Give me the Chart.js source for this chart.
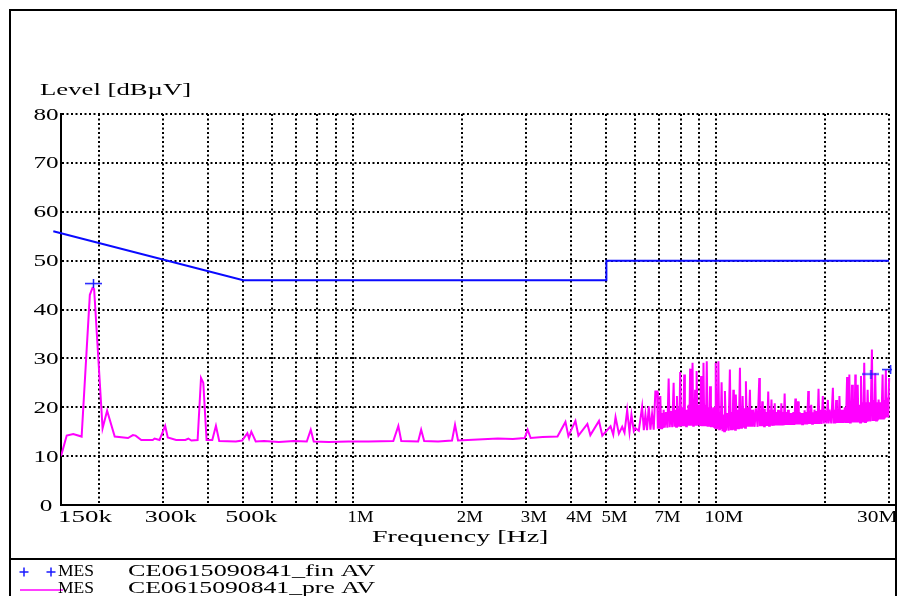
<!DOCTYPE html>
<html>
<head>
<meta charset="utf-8">
<script src="https://cdn.jsdelivr.net/npm/chart.js@4.4.0/dist/chart.umd.min.js"></script>
<style>
  html, body { margin: 0; padding: 0; background: #fff; }
  canvas { display: block; }
</style>
</head>
<body>
<canvas id="emiCanvas" width="898" height="596"></canvas>
<script>
// pre-scan, average detector (MHz / dBuV)
const preFreqMHz = [
  0.1575, 0.1633, 0.1702, 0.1795, 0.1891, 0.1923, 0.1943, 0.2050, 0.2110, 0.2214,
  0.2409, 0.2485, 0.2528, 0.2620, 0.2818, 0.2850, 0.2941, 0.3049, 0.3099, 0.3268,
  0.3465, 0.3532, 0.3599, 0.3745, 0.3826, 0.3882, 0.3964, 0.4110, 0.4206, 0.4295,
  0.4772, 0.4966, 0.5134, 0.5190, 0.5264, 0.5413, 0.5705, 0.6270, 0.6893, 0.7482,
  0.7673, 0.7819, 0.8597, 0.9750, 1.106, 1.295, 1.337, 1.362, 1.516, 1.545,
  1.575, 1.720, 1.879, 1.915, 1.952, 2.214, 2.512, 2.762, 2.978, 3.035,
  3.093, 3.337, 3.667, 3.857, 3.930, 4.109, 4.188, 4.432, 4.517, 4.771,
  4.872, 5.134, 5.222, 5.299, 5.412, 5.527, 5.609, 5.704, 5.789, 5.861,
  5.950, 6.012, 6.141, 6.271, 6.34, 6.404, 6.47, 6.541, 6.61, 6.680,
  6.75, 6.820, 6.894, 6.93, 6.967, 7.00, 7.039, 7.075, 7.112, 7.15,
  7.189, 7.24, 7.295, 7.36, 7.420, 7.47, 7.529, 7.59, 7.658, 7.70,
  7.737, 7.78, 7.820, 7.86, 7.904, 7.94, 7.984, 8.035, 8.086, 8.14,
  8.189, 8.225, 8.260, 8.29, 8.327, 8.37, 8.418, 8.46, 8.503, 8.54,
  8.578, 8.60, 8.633, 8.67, 8.703, 8.74, 8.775, 8.80, 8.831, 8.85,
  8.869, 8.92, 8.982, 9.05, 9.114, 9.155, 9.195, 9.225, 9.253, 9.30,
  9.348, 9.40, 9.448, 9.50, 9.549, 9.60, 9.647, 9.70, 9.750, 9.80,
  9.856, 9.89, 9.918, 9.96, 10.00, 10.04, 10.08, 10.125, 10.17, 10.22,
  10.27, 10.32, 10.38, 10.44, 10.50, 10.55, 10.60, 10.68, 10.76, 10.85,
  10.94, 11.00, 11.06, 11.12, 11.18, 11.22, 11.27, 11.31, 11.36, 11.43,
  11.51, 11.58, 11.66, 11.71, 11.76, 11.81, 11.86, 11.92, 11.99, 12.05,
  12.11, 12.18, 12.26, 12.34, 12.42, 12.48, 12.55, 12.62, 12.69, 12.80,
  12.90, 13.04, 13.18, 13.23, 13.29, 13.36, 13.43, 13.48, 13.54, 13.59,
  13.65, 13.72, 13.80, 13.87, 13.95, 14.02, 14.09, 14.16, 14.24, 14.31,
  14.39, 14.46, 14.54, 14.61, 14.69, 14.77, 14.85, 14.93, 15.01, 15.08,
  15.16, 15.24, 15.33, 15.40, 15.48, 15.56, 15.65, 15.73, 15.82, 15.90,
  15.98, 16.06, 16.15, 16.25, 16.36, 16.46, 16.57, 16.63, 16.70, 16.77,
  16.85, 16.93, 17.02, 17.11, 17.20, 17.29, 17.39, 17.48, 17.57, 17.66,
  17.75, 17.86, 17.98, 18.05, 18.13, 18.22, 18.32, 18.42, 18.52, 18.61,
  18.71, 18.83, 18.95, 19.07, 19.19, 19.29, 19.40, 19.56, 19.72, 19.85,
  19.98, 20.17, 20.36, 20.46, 20.57, 20.80, 21.02, 21.12, 21.23, 21.34,
  21.46, 21.57, 21.69, 21.80, 21.91, 22.02, 22.14, 22.26, 22.38, 22.52,
  22.67, 22.83, 23.00, 23.10, 23.19, 23.26, 23.33, 23.43, 23.54, 23.63,
  23.73, 23.86, 23.99, 24.11, 24.23, 24.30, 24.38, 24.49, 24.60, 24.72,
  24.85, 24.98, 25.12, 25.25, 25.39, 25.51, 25.64, 25.78, 25.92, 26.06,
  26.20, 26.33, 26.46, 26.69, 26.92, 27.06, 27.21, 27.35, 27.49, 27.64,
  27.79, 27.94, 28.09, 28.23, 28.38, 28.60, 28.81, 28.92, 29.04, 29.22,
  29.41, 29.53, 29.66, 29.85, 30.03, 30.15, 30.25, 30.40
];
const preLevel = [
  10.0, 14.2, 14.5, 14.0, 43.0, 44.4, 44.2, 15.7, 19.3, 14.0,
  13.7, 14.3, 14.2, 13.3, 13.3, 13.6, 13.3, 16.2, 13.8, 13.3,
  13.3, 13.6, 13.2, 13.3, 26.0, 25.0, 13.3, 13.3, 16.2, 13.1,
  13.0, 13.2, 14.7, 13.6, 15.0, 13.0, 13.1, 12.9, 13.1, 13.0,
  15.4, 13.0, 12.9, 13.0, 13.0, 13.1, 16.2, 13.1, 13.0, 15.4,
  13.1, 13.0, 13.2, 16.4, 13.2, 13.4, 13.6, 13.5, 13.7, 15.4,
  13.7, 13.9, 14.0, 17.0, 14.1, 17.2, 14.2, 16.6, 14.3, 17.2,
  14.2, 16.1, 14.4, 18.0, 14.6, 16.0, 14.8, 19.4, 14.9, 18.5,
  15.1, 15.7, 15.2, 20.1, 15.3, 18.5, 15.3, 20.2, 15.4, 18.6,
  15.4, 23.2, 23.2, 15.6, 18.0, 15.6, 22.3, 15.7, 18.8, 15.7,
  19.5, 15.8, 19.0, 15.8, 25.9, 15.9, 19.2, 15.9, 25.0, 16.0,
  19.5, 16.0, 22.3, 16.0, 19.8, 16.0, 27.2, 16.1, 20.0, 16.1,
  26.7, 16.1, 19.5, 16.1, 19.5, 16.2, 20.5, 16.2, 27.9, 16.2,
  20.0, 16.2, 29.1, 16.2, 20.5, 16.2, 23.6, 16.2, 19.8, 16.2,
  27.4, 16.2, 20.5, 16.2, 26.4, 16.1, 20.0, 16.1, 29.1, 16.1,
  20.5, 16.1, 29.4, 16.0, 20.0, 16.0, 24.3, 15.9, 19.8, 15.9,
  20.0, 15.8, 19.0, 15.8, 29.1, 15.7, 19.5, 15.7, 29.4, 15.5,
  19.0, 15.5, 25.1, 15.1, 18.5, 15.1, 23.3, 15.2, 18.8, 15.2,
  27.7, 15.3, 19.0, 15.3, 23.6, 15.4, 19.2, 15.4, 22.6, 15.5,
  19.5, 15.5, 28.1, 15.6, 19.5, 15.6, 22.3, 15.8, 19.8, 15.8,
  25.3, 16.0, 20.0, 16.0, 23.6, 16.0, 19.5, 16.0, 19.5, 16.0,
  19.8, 16.0, 26.0, 16.1, 19.5, 16.1, 21.2, 16.1, 19.0, 16.1,
  19.7, 16.2, 19.0, 16.2, 23.2, 16.2, 19.5, 16.2, 21.6, 16.2,
  19.5, 16.2, 20.8, 16.3, 19.0, 16.3, 19.5, 16.3, 19.2, 16.3,
  20.8, 16.3, 19.0, 16.3, 22.8, 16.4, 19.0, 16.4, 19.5, 16.4,
  18.8, 16.4, 18.8, 16.4, 19.0, 16.4, 21.8, 16.5, 19.2, 16.5,
  21.2, 16.5, 19.0, 16.5, 18.8, 16.5, 18.8, 16.5, 19.4, 16.5,
  19.0, 16.5, 23.3, 16.6, 19.2, 16.6, 20.5, 16.6, 19.0, 16.6,
  19.5, 16.6, 19.2, 16.6, 23.8, 16.6, 19.5, 16.6, 22.3, 16.7,
  19.5, 16.7, 21.5, 16.7, 19.5, 16.7, 24.0, 16.7, 19.5, 16.7,
  21.5, 16.8, 19.5, 16.8, 22.3, 16.8, 19.5, 16.8, 19.5, 16.8,
  20.0, 16.8, 26.2, 16.8, 20.5, 16.8, 26.7, 16.9, 20.5, 16.9,
  24.6, 16.9, 20.5, 16.9, 26.7, 16.9, 20.5, 16.9, 24.6, 16.9,
  20.5, 16.9, 26.4, 16.9, 21.0, 16.9, 29.1, 17.0, 21.0, 17.0,
  23.6, 17.1, 21.0, 17.1, 31.8, 17.2, 21.5, 17.2, 27.0, 17.3,
  21.0, 17.3, 21.6, 17.5, 21.0, 17.5, 26.7, 17.7, 21.5, 17.7,
  27.6, 17.9, 22.0, 17.9, 26.0, 17.9, 33.0, 30.0
];

// final measurements, average detector
const finFreqMHz = [0.1935, 26.76, 30.3, 30.3];
const finLevel = [45.3, 26.8, 27.7, 19.0];

// limit line
const limitFreqMHz = [0.15, 0.5, 5, 5, 30];
const limitLevel = [56, 46, 46, 50, 50];

// axes
const gridFreqMHz = [0.2, 0.3, 0.4, 0.5, 0.6, 0.7, 0.8, 0.9, 1, 2, 3, 4, 5, 6, 7, 8, 9, 10, 20, 30];
const xTickMHz = [0.15, 0.3, 0.5, 1, 2, 3, 4, 5, 7, 10, 30];
const xTickLabels = ['150k', '300k', '500k', '1M', '2M', '3M', '4M', '5M', '7M', '10M', '30M'];
const yTicks = [0, 10, 20, 30, 40, 50, 60, 70, 80];

const FONT = '16px "Liberation Serif", "Times New Roman", serif';
const PITCH = 12.6;

function toPoints(fs, ls) {
  return fs.map((f, i) => ({ x: f * 1e6, y: ls[i] }));
}

// wide, fixed pitch text like the receiver software
function wideText(ctx, str, x, y, align, pitch) {
  ctx.save();
  ctx.font = FONT;
  const w = ctx.measureText(str).width;
  const target = str.length * (pitch || PITCH);
  const sx = target / w;
  let x0 = x;
  if (align === 'center') x0 = x - target / 2;
  if (align === 'right') x0 = x - target;
  ctx.translate(x0, y);
  ctx.scale(sx, 1);
  ctx.textAlign = 'left';
  ctx.textBaseline = 'alphabetic';
  ctx.fillText(str, 0, 0);
  ctx.restore();
}

const plusImg = document.createElement('canvas');
plusImg.width = 17;
plusImg.height = 9;
(function () {
  const c = plusImg.getContext('2d');
  c.strokeStyle = '#1a1aff';
  c.lineWidth = 1.5;
  c.beginPath();
  c.moveTo(0, 4.5); c.lineTo(17, 4.5);
  c.moveTo(8.5, 0); c.lineTo(8.5, 9);
  c.stroke();
})();

const framePlugin = {
  id: 'frame',
  afterDraw(chart) {
    const ctx = chart.ctx;
    const xs = chart.scales.x;
    const ys = chart.scales.y;
    ctx.save();
    ctx.strokeStyle = '#000';
    ctx.lineWidth = 2;
    ctx.beginPath();
    ctx.moveTo(10, 600); ctx.lineTo(10, 10); ctx.lineTo(896, 10); ctx.lineTo(896, 600);
    ctx.moveTo(10, 559); ctx.lineTo(896, 559);
    ctx.moveTo(xs.right, ys.bottom); ctx.lineTo(896, ys.bottom);
    ctx.stroke();

    ctx.fillStyle = '#000';
    wideText(ctx, 'Level [dBµV]', 40, 95, 'left');
    yTicks.forEach(v => wideText(ctx, String(v), 46, ys.getPixelForValue(v) + 5.5, 'center'));

    ctx.save();
    ctx.beginPath();
    ctx.rect(0, 0, 895, 596);
    ctx.clip();
    xTickMHz.forEach((f, i) => {
      const v = f * 1e6;
      const px = xs.getPixelForValue(v);
      if (v < xs.min) {
        wideText(ctx, xTickLabels[i], 58, 522, 'left', 13.5);
      } else if (v >= xs.max) {
        wideText(ctx, xTickLabels[i], px - 32, 522, 'left', 13.5);
      } else {
        wideText(ctx, xTickLabels[i], px + 8, 522, 'center', 13);
      }
    });
    ctx.restore();

    wideText(ctx, 'Frequency [Hz]', 372, 542, 'left');

    // legend
    ctx.strokeStyle = '#1a1aff';
    ctx.lineWidth = 1.5;
    ctx.beginPath();
    [24, 51].forEach(cx => {
      ctx.moveTo(cx - 4.5, 572); ctx.lineTo(cx + 4.5, 572);
      ctx.moveTo(cx, 567.5); ctx.lineTo(cx, 576.5);
    });
    ctx.stroke();
    wideText(ctx, 'MES', 58, 576, 'left', 12);
    wideText(ctx, 'CE0615090841_fin AV', 128, 576, 'left', 13);

    ctx.strokeStyle = '#ff00ff';
    ctx.beginPath();
    ctx.moveTo(20, 590); ctx.lineTo(63, 590);
    ctx.stroke();
    wideText(ctx, 'MES', 58, 593, 'left', 12);
    wideText(ctx, 'CE0615090841_pre AV', 128, 593, 'left', 13);
    ctx.restore();
  }
};

const gridStyle = { color: '#000', lineWidth: 2, drawTicks: false };
const borderStyle = { color: '#000', width: 2, dash: [2, 2.5] };

const canvas = document.getElementById('emiCanvas');
new Chart(canvas.getContext('2d'), {
  type: 'line',
  data: {
    datasets: [
      {
        label: 'MES CE0615090841_fin AV',
        data: toPoints(finFreqMHz, finLevel),
        showLine: false,
        pointStyle: plusImg,
        pointRadius: 8,
        clip: { left: 10, top: 10, right: 3, bottom: 10 },
        order: 0
      },
      {
        label: 'limit',
        data: toPoints(limitFreqMHz, limitLevel),
        borderColor: '#0a0aff',
        borderWidth: 2,
        pointRadius: 0,
        tension: 0,
        clip: { left: 8, top: 0, right: 0, bottom: 0 },
        order: 1
      },
      {
        label: 'MES CE0615090841_pre AV',
        data: toPoints(preFreqMHz, preLevel),
        borderColor: '#ff00ff',
        borderWidth: 2,
        pointRadius: 0,
        tension: 0,
        clip: { left: 0, top: 0, right: 3, bottom: 0 },
        order: 2
      }
    ]
  },
  options: {
    responsive: false,
    animation: false,
    devicePixelRatio: 1,
    layout: { padding: { left: 61, top: 114, right: 5, bottom: 91 } },
    plugins: { legend: { display: false }, tooltip: { enabled: false } },
    scales: {
      x: {
        type: 'logarithmic',
        min: 157500,
        max: 30000000,
        afterBuildTicks: s => { s.ticks = gridFreqMHz.map(f => ({ value: f * 1e6 })); },
        afterFit: s => { s.height = 0; },
        ticks: { display: false },
        grid: gridStyle,
        border: borderStyle
      },
      y: {
        min: 0,
        max: 80,
        afterBuildTicks: s => { s.ticks = yTicks.map(v => ({ value: v })); },
        afterFit: s => { s.width = 0; },
        ticks: { display: false },
        grid: gridStyle,
        border: borderStyle
      }
    }
  },
  plugins: [framePlugin]
});
</script>
</body>
</html>
